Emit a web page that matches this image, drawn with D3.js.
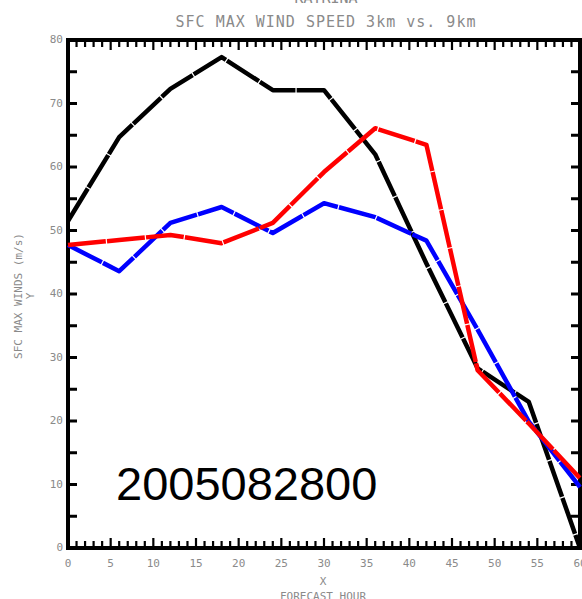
<!DOCTYPE html>
<html>
<head>
<meta charset="utf-8">
<script src="https://cdn.jsdelivr.net/npm/d3@7"></script>
<style>
  body { margin: 0; background: #fff; }
  svg { display: block; }
  .lbl { font-family: "DejaVu Sans Mono", monospace; fill: #8a8a8a; }
</style>
</head>
<body>
<svg id="chart"></svg>
<script>
// canvas size and plot box
var width = 582;
var height = 599;
var margin = {"top": 40, "bottom": 51, "left": 68, "right": 2};

// forecast hours and the three runs
var hours = [0, 6, 12, 18, 24, 30, 36, 42, 48, 54, 60];
var blackRun = [51.5, 64.7, 72.3, 77.3, 72.1, 72.1, 62.0, 44.8, 28.3, 23.0, 0];
var redRun = [47.7, 48.5, 49.3, 48.0, 51.2, 59.2, 66.1, 63.5, 28.0, 19.6, 11.0];
var blueRun = [47.7, 43.6, 51.2, 53.7, 49.6, 54.3, 52.1, 48.4, 34.4, 19.9, 9.6];

var xTicks = [0, 5, 10, 15, 20, 25, 30, 35, 40, 45, 50, 55, 60];
var yTicks = [0, 10, 20, 30, 40, 50, 60, 70, 80];

var svg = d3.select("svg#chart")
  .attr("width", width)
  .attr("height", height);

var xScale = d3.scaleLinear()
  .domain([0, 60])
  .range([margin.left, width - margin.right]);

var yScale = d3.scaleLinear()
  .domain([0, 80])
  .range([height - margin.bottom, margin.top]);

var x0 = xScale(0), x1 = xScale(60), y0 = yScale(0), y1 = yScale(80);

// titles
svg.append("text").attr("class", "lbl")
  .attr("x", 326).attr("y", 3)
  .attr("text-anchor", "middle")
  .style("font-size", "15px")
  .text("KATRINA");

svg.append("text").attr("class", "lbl")
  .attr("x", 326).attr("y", 27)
  .attr("text-anchor", "middle")
  .style("font-size", "15px")
  .style("letter-spacing", "1px")
  .text("SFC MAX WIND SPEED 3km vs. 9km");

// inner tick marks: minor every hour, longer every 5
var minorX = d3.range(0, 61, 1).filter(function(d) { return d % 5 != 0; });
var ticks = svg.append("g").attr("stroke", "#000").attr("stroke-width", 2.2);

ticks.selectAll("line.xminb").data(minorX).enter().append("line")
  .attr("x1", function(d) { return xScale(d); }).attr("x2", function(d) { return xScale(d); })
  .attr("y1", y0).attr("y2", y0 - 7);
ticks.selectAll("line.xmint").data(minorX).enter().append("line")
  .attr("x1", function(d) { return xScale(d); }).attr("x2", function(d) { return xScale(d); })
  .attr("y1", y1).attr("y2", y1 + 7);
ticks.selectAll("line.xmajb").data(xTicks).enter().append("line")
  .attr("x1", function(d) { return xScale(d); }).attr("x2", function(d) { return xScale(d); })
  .attr("y1", y0).attr("y2", y0 - 10);
ticks.selectAll("line.xmajt").data(xTicks).enter().append("line")
  .attr("x1", function(d) { return xScale(d); }).attr("x2", function(d) { return xScale(d); })
  .attr("y1", y1).attr("y2", y1 + 10);

var yMarks = d3.range(0, 81, 5);
ticks.selectAll("line.yl").data(yMarks).enter().append("line")
  .attr("x1", x0).attr("x2", x0 + 9)
  .attr("y1", function(d) { return yScale(d); }).attr("y2", function(d) { return yScale(d); })
  .attr("stroke-width", 3);
ticks.selectAll("line.yr").data(yMarks).enter().append("line")
  .attr("x1", x1).attr("x2", x1 - 9)
  .attr("y1", function(d) { return yScale(d); }).attr("y2", function(d) { return yScale(d); })
  .attr("stroke-width", 3);

// frame
svg.append("rect")
  .attr("x", x0).attr("y", y1)
  .attr("width", x1 - x0).attr("height", y0 - y1)
  .attr("fill", "none")
  .attr("stroke", "#000")
  .attr("stroke-width", 4);

// tick labels
svg.selectAll("text.xl").data(xTicks).enter().append("text")
  .attr("class", "lbl")
  .attr("x", function(d) { return xScale(d); })
  .attr("y", y0 + 19)
  .attr("text-anchor", "middle")
  .style("font-size", "11px")
  .text(function(d) { return d; });

svg.selectAll("text.yl").data(yTicks).enter().append("text")
  .attr("class", "lbl")
  .attr("x", x0 - 5)
  .attr("y", function(d) { return yScale(d) + 3; })
  .attr("text-anchor", "end")
  .style("font-size", "11px")
  .text(function(d) { return d; });

// axis titles
svg.append("text").attr("class", "lbl")
  .attr("x", (x0 + x1) / 2 - 1).attr("y", y0 + 37)
  .attr("text-anchor", "middle").style("font-size", "11px")
  .text("X");
svg.append("text").attr("class", "lbl")
  .attr("x", (x0 + x1) / 2 - 1).attr("y", y0 + 52)
  .attr("text-anchor", "middle").style("font-size", "11px")
  .text("FORECAST HOUR");

svg.append("text").attr("class", "lbl")
  .attr("transform", "translate(22," + 296 + ") rotate(-90)")
  .attr("text-anchor", "middle").style("font-size", "11px")
  .text("SFC MAX WINDS (m/s)");
svg.append("text").attr("class", "lbl")
  .attr("transform", "translate(34," + 296 + ") rotate(-90)")
  .attr("text-anchor", "middle").style("font-size", "11px")
  .text("Y");

// the three runs
var line = d3.line()
  .x(function(d, i) { return xScale(hours[i]); })
  .y(function(d) { return yScale(d); });

[[blackRun, "#000000"], [blueRun, "#0000ff"], [redRun, "#ff0000"]].forEach(function(s) {
  svg.append("path")
    .attr("d", line(s[0]))
    .attr("fill", "none")
    .attr("stroke", s[1])
    .attr("stroke-width", 4.5)
    .attr("stroke-linejoin", "round")
    .attr("stroke-dasharray", "38,1.2");
});

// run date stamp
svg.append("text")
  .attr("x", 116).attr("y", 500)
  .style("font-family", "'Liberation Sans', Arial, sans-serif")
  .style("font-size", "47px")
  .attr("fill", "#000")
  .text("2005082800");
</script>
</body>
</html>
